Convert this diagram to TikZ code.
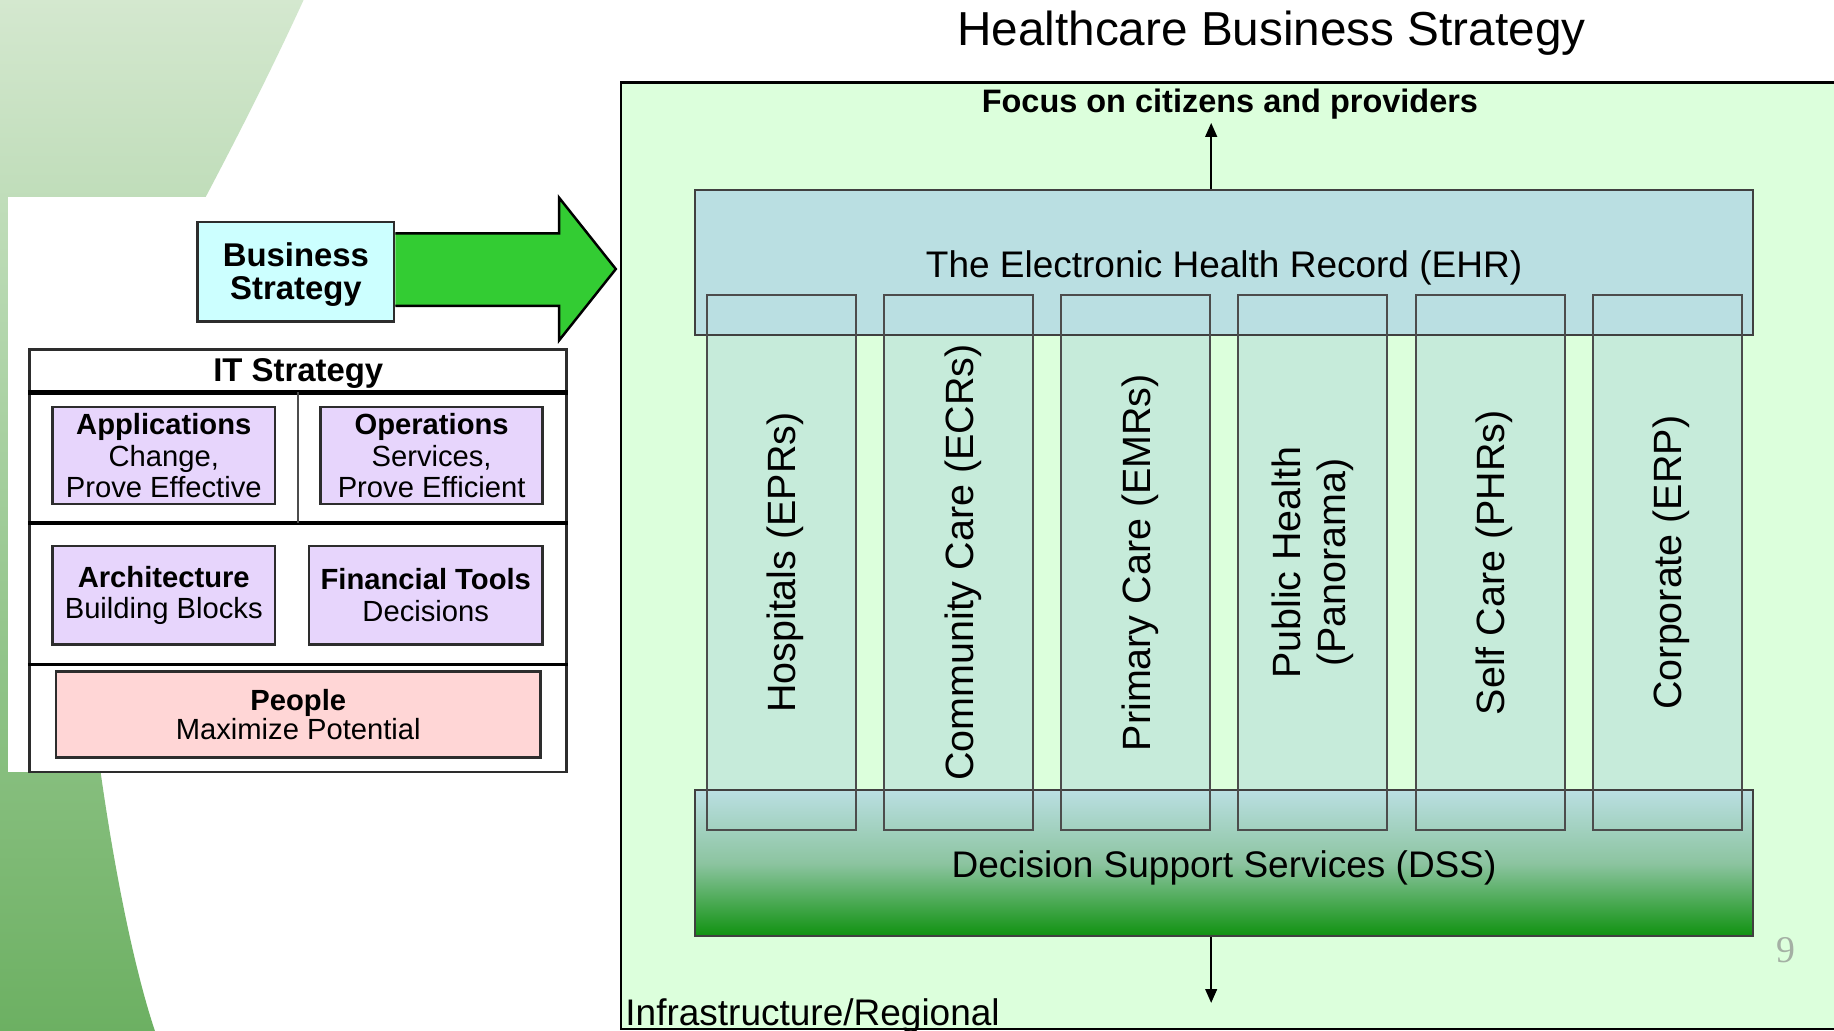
\documentclass[tikz,border=0pt]{standalone}
\usepackage{fontspec}
\setmainfont{Liberation Sans}
\newfontfamily\slidenumfont{Liberation Serif}
\usetikzlibrary{arrows.meta}

\definecolor{swooshtop}{RGB}{212,232,207}
\definecolor{swooshmid}{RGB}{150,200,140}
\definecolor{swooshbot}{RGB}{108,176,98}
\definecolor{bizcyan}{RGB}{204,255,255}
\definecolor{arrowgreen}{RGB}{51,204,51}
\definecolor{itlilac}{RGB}{231,213,252}
\definecolor{peoplepink}{RGB}{255,214,214}
\definecolor{hbsgreen}{RGB}{220,255,220}
\definecolor{ehrblue}{RGB}{186,223,226}
\definecolor{colmint}{RGB}{198,235,218}
\definecolor{dssgreen}{RGB}{16,146,16}
\definecolor{dssmid}{RGB}{140,196,160}
\definecolor{numgray}{RGB}{164,176,164}
\definecolor{framegray}{RGB}{45,45,45}

\begin{document}
\begin{tikzpicture}[x=1cm, y=-1cm, % y runs downwards
	>={Triangle[length=3.4pt,width=2.8pt]}, % arrow head style
	panelbox/.style={draw=framegray, line width=0.6pt, inner sep=0pt, align=center,
		font=\fontsize{7.1}{7.7}\selectfont},
	itbox/.style={panelbox, fill=itlilac, minimum width=1.90cm, minimum height=0.83cm},
	bigtext/.style={font=\fontsize{9}{10.8}\selectfont},
	tierbox/.style={draw=black!75, line width=0.5pt, inner sep=0pt, minimum width=9.05cm,
		minimum height=1.245cm, bigtext, text height=0.25cm, text depth=0pt},
	colbox/.style={fill=colmint, inner sep=0pt, rotate=90, minimum width=4.565cm,
		minimum height=1.26cm, font=\fontsize{9.6}{11.1}\selectfont},
	coltext/.style={text height=0.25cm, text depth=0pt},
	colframe/.style={draw=black!70, line width=0.5pt},
	conn/.style={->, line width=0.6pt}]
	\useasboundingbox (0,0) rectangle (15.68,8.814);
	\fill[white] (0,0) rectangle (15.68,8.814);
	\clip (0,0) rectangle (15.68,8.814);
	% green swoosh and white panel
	\shade[top color=swooshtop, middle color=swooshmid, bottom color=swooshbot]
		(0,-0.01) -- (2.60,-0.01) .. controls (2.32,0.60) and (2.04,1.15) .. (1.75,1.70)
		-- (0.86,6.60) .. controls (0.98,7.45) and (1.15,8.30) .. (1.33,8.83) -- (0,8.83) -- cycle;
	\fill[white] (0.07,1.68) rectangle (5.31,6.60);
	% business strategy and the big arrow
	\node[panelbox, fill=bizcyan, minimum width=1.68cm, minimum height=0.85cm,
		font=\fontsize{8}{8}\selectfont\bfseries] (biz) at (2.53,2.325) {\rule{0pt}{7pt}Business\\Strategy};
	\draw[fill=arrowgreen, line width=0.6pt] (biz.east |- 0,1.995) -- (4.78,1.995) -- (4.78,1.69)
		-- (5.265,2.30) -- (4.78,2.91) -- (4.78,2.615) -- (biz.east |- 0,2.615);
	% IT strategy frame
	\node[panelbox, line width=0.7pt, minimum width=4.59cm, minimum height=3.61cm] (itframe) at (2.545,4.795) {};
	\node[font=\fontsize{8}{8}\selectfont\bfseries] (ittitle) at (2.55,3.195) {IT Strategy};
	\draw[line width=1.1pt] (itframe.west |- 0,3.355) -- (itframe.east |- 0,3.355);
	\draw[line width=1.1pt] (itframe.west |- 0,4.47) -- (itframe.east |- 0,4.47);
	\draw[line width=0.7pt] (itframe.west |- 0,5.68) -- (itframe.east |- 0,5.68);
	\draw[line width=0.4pt, black!70] (2.55,3.355) -- (2.55,4.47);
	\node[itbox] (apps) at (1.40,3.895) {\textbf{Applications}\\Change,\\Prove Effective};
	\node[itbox] (ops) at (3.69,3.895) {\textbf{Operations}\\Services,\\Prove Efficient};
	\node[itbox, minimum height=0.84cm] (arch) at (1.40,5.09) {\textbf{Architecture}\\Building Blocks};
	\node[itbox, minimum width=2.00cm, minimum height=0.84cm] (fin) at (3.64,5.09) {\textbf{Financial Tools}\\Decisions};
	\node[panelbox, fill=peoplepink, minimum width=4.14cm, minimum height=0.735cm,
		font=\fontsize{7.1}{7}\selectfont] (people) at (2.55,6.11) {\textbf{People}\\Maximize Potential};
	% healthcare business strategy
	\draw[fill=hbsgreen, line width=0.6pt] (5.31,0.705) rectangle (15.9,8.795);
	\node[anchor=base, font=\fontsize{11.6}{14}\selectfont] (title) at (10.87,0.385) {Healthcare Business Strategy};
	\node[anchor=base, font=\fontsize{7.9}{9.5}\selectfont\bfseries] (focus) at (10.515,0.96) {Focus on citizens and providers};
	\node[colbox, coltext] (hosp) at (6.68,4.81) {Hospitals (EPRs)};
	\node[colbox, coltext] (comm) at (8.195,4.81) {Community Care (ECRs)};
	\node[colbox, coltext] (prim) at (9.71,4.81) {Primary Care (EMRs)};
	\node[colbox, align=center] (pub) at (11.225,4.81) {Public Health\\(Panorama)};
	\node[colbox, coltext] (self) at (12.74,4.81) {Self Care (PHRs)};
	\node[colbox, coltext] (corp) at (14.255,4.81) {Corporate (ERP)};
	\node[tierbox, fill=ehrblue] (ehr) at (10.465,2.245) {The Electronic Health Record (EHR)};
	\node[tierbox, top color=ehrblue, bottom color=dssgreen, middle color=dssmid] (dss) at (10.465,7.38) {Decision Support Services (DSS)};
	\foreach \c in {hosp,comm,prim,pub,self,corp}
		\draw[colframe] (\c.south west) rectangle (\c.north east);
	\coordinate (focustip) at (10.355,1.05);
	\coordinate (infratip) at (10.355,8.575);
	\draw[conn] (ehr.north -| focustip) -- (focustip);
	\draw[conn] (dss.south -| infratip) -- (infratip);
	\node[anchor=base west, bigtext, inner sep=0pt] (infra) at (5.34,8.765) {Infrastructure/Regional};
	\node[font=\slidenumfont\fontsize{9.2}{11}\selectfont, text=numgray] (slidenum) at (15.27,8.12) {9};
\end{tikzpicture}
\end{document}
